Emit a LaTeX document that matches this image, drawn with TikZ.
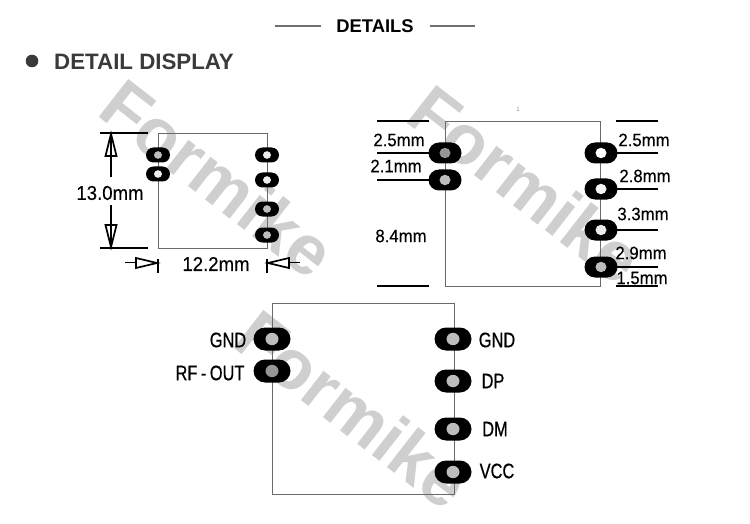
\documentclass[tikz,border=0pt]{standalone}
\usepackage{fontspec}
\setmainfont{Liberation Sans}
\newfontfamily\cadfont[FakeStretch=0.93,FakeBold=0.25]{Liberation Sans}
\newfontfamily\pinfont[FakeStretch=0.78,FakeBold=0.6]{Liberation Sans}
\newcommand{\padshape}[6]{% x y w h holecolor holewidth
  \fill[black] (#1-#3/2+#4/2,#2-#4/2) arc[start angle=-90,end angle=-270,radius=#4/2] -- (#1+#3/2-#4/2,#2+#4/2) arc[start angle=90,end angle=-90,radius=#4/2] -- cycle;
  \fill[#5] (#1,#2) ellipse [x radius=#6/2, y radius=#6/2*0.95];
}
\tikzset{
  mark text/.style={font=\cadfont\fontsize{20}{20}\selectfont,inner sep=0pt,text=black},
  small mark/.style={font=\cadfont\fontsize{18}{18}\selectfont,inner sep=0pt,text=black},
  pin text/.style={font=\pinfont\fontsize{21}{21}\selectfont,inner sep=0pt,text=black},
  wmark/.style={font=\bfseries\fontsize{70}{70}\selectfont,text=wmgray,inner sep=0pt,anchor=base west,rotate=-38},
  outline/.style={draw=boxgray,line width=0.9pt},
  dim/.style={draw=black,line width=1.8pt},
  hollow/.style={draw=black,line width=1.7pt,fill=white,line join=miter},
}
\definecolor{wmgray}{HTML}{CFCFCF}
\definecolor{boxgray}{HTML}{6A6A6A}
\definecolor{holegray}{HTML}{BDBDBD}
\definecolor{holedark}{HTML}{969696}
\definecolor{ruleg}{HTML}{707070}
\definecolor{headg}{HTML}{3A3A3A}
\begin{document}
\begin{tikzpicture}[x=1pt,y=-1pt]
\useasboundingbox[fill=white] (0,0) rectangle (750,524);
% header
\node[font=\bfseries\fontsize{18.4}{18}\selectfont,inner sep=0pt] (title) at (375,26) {DETAILS};
\draw[ruleg,line width=1.3pt] (275,26) -- (321,26);
\draw[ruleg,line width=1.3pt] (430,26) -- (475,26);
\fill[headg] (32,61) circle (6.3);
\node[font=\bfseries\fontsize{22.3}{22}\selectfont,text=headg,anchor=west,inner sep=0pt] (sub) at (54,62) {DETAIL DISPLAY};
% watermarks
\node[wmark] (w1) at (95,114) {Formike};
\node[wmark] (w2) at (403,120) {Formike};
\node[wmark] (w3) at (230,345) {Formike};
% diagram 1
\draw[outline] (158,133) rectangle (267,248);
\padshape{158}{155}{24}{15}{holegray}{8}
\padshape{158}{174}{24}{15}{white!85!gray}{8}
\padshape{267}{155}{24}{15}{white!85!gray}{8}
\padshape{267}{180}{24}{15}{white!85!gray}{8}
\padshape{267}{209}{24}{15}{holegray}{8}
\padshape{267}{235}{24}{15}{holegray}{8}
\draw[dim] (100,133) -- (148,133);
\draw[dim] (100,248) -- (148,248);
\draw[hollow] (111,134) -- (116.5,156) -- (105.5,156) -- cycle;
\draw[hollow] (111,247) -- (116.5,225) -- (105.5,225) -- cycle;
\draw[dim] (111,133) -- (111,177);
\draw[dim] (111,205) -- (111,248);
\draw[dim] (158,259) -- (158,273);
\draw[dim] (267,259) -- (267,273);
\draw[hollow] (157,263) -- (136,258) -- (136,268) -- cycle;
\draw[hollow] (268,263) -- (289,258) -- (289,268) -- cycle;
\draw[dim] (125,262.5) -- (136,262.5);
\draw[dim] (289,262.5) -- (300,262.5);
\node[mark text] (d1a) at (110,193) {13.0mm};
\node[mark text] (d1b) at (216,264) {12.2mm};
% diagram 2
\draw[outline] (445,121) rectangle (600,286);
\padshape{445}{153}{33}{21}{holedark}{11}
\padshape{445}{180}{33}{21}{holegray}{11}
\padshape{601}{153}{33}{21}{white}{11}
\padshape{601}{189}{33}{21}{white!92!gray}{11}
\padshape{601}{230}{33}{21}{white!85!gray}{11}
\padshape{601}{267}{33}{21}{holegray}{11}
\foreach \yy in {121,153,180,286} \draw[dim] (377,\yy) -- (429,\yy);
\foreach \yy in {121,153,189,230,267,286} \draw[dim] (616,\yy) -- (658,\yy);
\node[small mark] (t1) at (399,140) {2.5mm};
\node[small mark] (t2) at (396,166) {2.1mm};
\node[small mark] (t3) at (401,236) {8.4mm};
\node[small mark] (t4) at (644,140) {2.5mm};
\node[small mark] (t5) at (645,176) {2.8mm};
\node[small mark] (t6) at (643,214) {3.3mm};
\node[small mark] (t7) at (641,253) {2.9mm};
\node[small mark] (t8) at (642,278) {1.5mm};
\node[font=\fontsize{6}{6}\selectfont,text=black!45,inner sep=0pt] (t9) at (518,109) {1};
% diagram 3
\draw[outline] (272,303) rectangle (454,494);
\padshape{272}{339}{37}{23}{holegray}{13}
\padshape{272}{371}{37}{23}{holedark}{13}
\padshape{453}{339}{37}{23}{holegray}{13}
\padshape{453}{381}{37}{23}{holegray}{13}
\padshape{453}{429}{37}{23}{holegray}{13}
\padshape{453}{472}{37}{23}{holegray}{13}
\node[pin text] (p1) at (228,340) {GND};
\node[pin text] (p2) at (210,373) {RF\,-\,OUT};
\node[pin text] (p3) at (497,340) {GND};
\node[pin text] (p4) at (493,381) {DP};
\node[pin text] (p5) at (495,429) {DM};
\node[pin text] (p6) at (497,471) {VCC};
\end{tikzpicture}
\end{document}
